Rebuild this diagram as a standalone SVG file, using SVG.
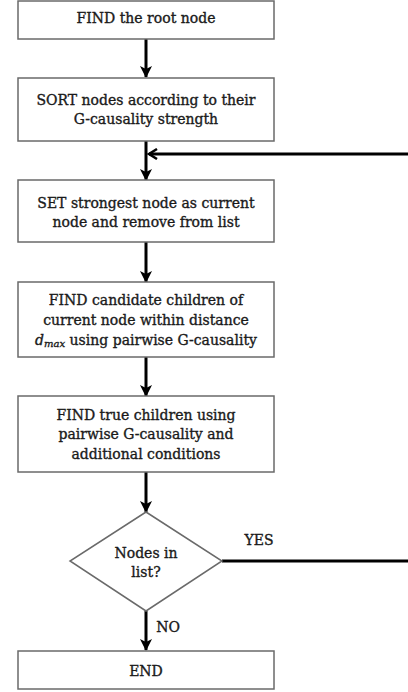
<svg xmlns="http://www.w3.org/2000/svg" width="408" height="692" viewBox="0 0 408 692">
<style>
.box{fill:#fff;stroke:#6a6a6a;stroke-width:1.5}
.t{font-family:"DejaVu Serif","Liberation Serif",serif;font-size:14px;fill:#1a1a1a;stroke:#1a1a1a;stroke-width:0.35;text-anchor:middle;dominant-baseline:central}
.c{fill:none;stroke:#000;stroke-width:3}
</style>
<defs>
<marker id="ah" viewBox="0 0 12 12" refX="11" refY="6" markerWidth="12" markerHeight="12" markerUnits="userSpaceOnUse" orient="auto">
<path d="M0,0 L12,6 L0,12 L3,6 z" fill="#000"/>
</marker>
<marker id="ao" viewBox="0 0 12 12" refX="10" refY="6" markerWidth="12" markerHeight="12" markerUnits="userSpaceOnUse" orient="auto">
<path d="M2,1 L10,6 L2,11" fill="none" stroke="#000" stroke-width="2.5"/>
</marker>
</defs>
<rect width="408" height="692" fill="#fff"/>
<g id="connectors">
<path class="c" d="M146,39 V77" marker-end="url(#ah)"/>
<path class="c" d="M146,141 V180" marker-end="url(#ah)"/>
<path class="c" d="M146,242 V282" marker-end="url(#ah)"/>
<path class="c" d="M146,357 V396" marker-end="url(#ah)"/>
<path class="c" d="M146,472 V512" marker-end="url(#ah)"/>
<path class="c" d="M146,611 V650" marker-end="url(#ah)"/>
<path class="c" d="M222,561 H411 V154 H149" marker-end="url(#ao)"/>
<text class="t" x="259" y="540">YES</text>
<text class="t" x="168" y="627">NO</text>
</g>
<g id="n1"><rect class="box" x="18" y="1" width="256" height="38"/><text class="t" x="146" y="18">FIND the root node</text></g>
<g id="n2"><rect class="box" x="18" y="78" width="256" height="63"/><text class="t" x="146" y="100">SORT nodes according to their</text><text class="t" x="146" y="119">G-causality strength</text></g>
<g id="n3"><rect class="box" x="18" y="180" width="256" height="62"/><text class="t" x="146" y="203">SET strongest node as current</text><text class="t" x="146" y="222">node and remove from list</text></g>
<g id="n4"><rect class="box" x="18" y="282" width="256" height="75"/><text class="t" x="146" y="300">FIND candidate children of</text><text class="t" x="146" y="320">current node within distance</text><text class="t" x="146" y="340"><tspan font-style="italic">d</tspan><tspan font-style="italic" font-size="10" dy="3">max</tspan><tspan dy="-3"> using pairwise G-causality</tspan></text></g>
<g id="n5"><rect class="box" x="18" y="396" width="256" height="76"/><text class="t" x="146" y="415">FIND true children using</text><text class="t" x="146" y="434">pairwise G-causality and</text><text class="t" x="146" y="454">additional conditions</text></g>
<g id="n6"><polygon class="box" points="146,512 222,561 146,611 70,561"/><text class="t" x="146" y="553">Nodes in</text><text class="t" x="146" y="572">list?</text></g>
<g id="n7"><rect class="box" x="18" y="651" width="256" height="38"/><text class="t" x="146" y="671">END</text></g>
</svg>
